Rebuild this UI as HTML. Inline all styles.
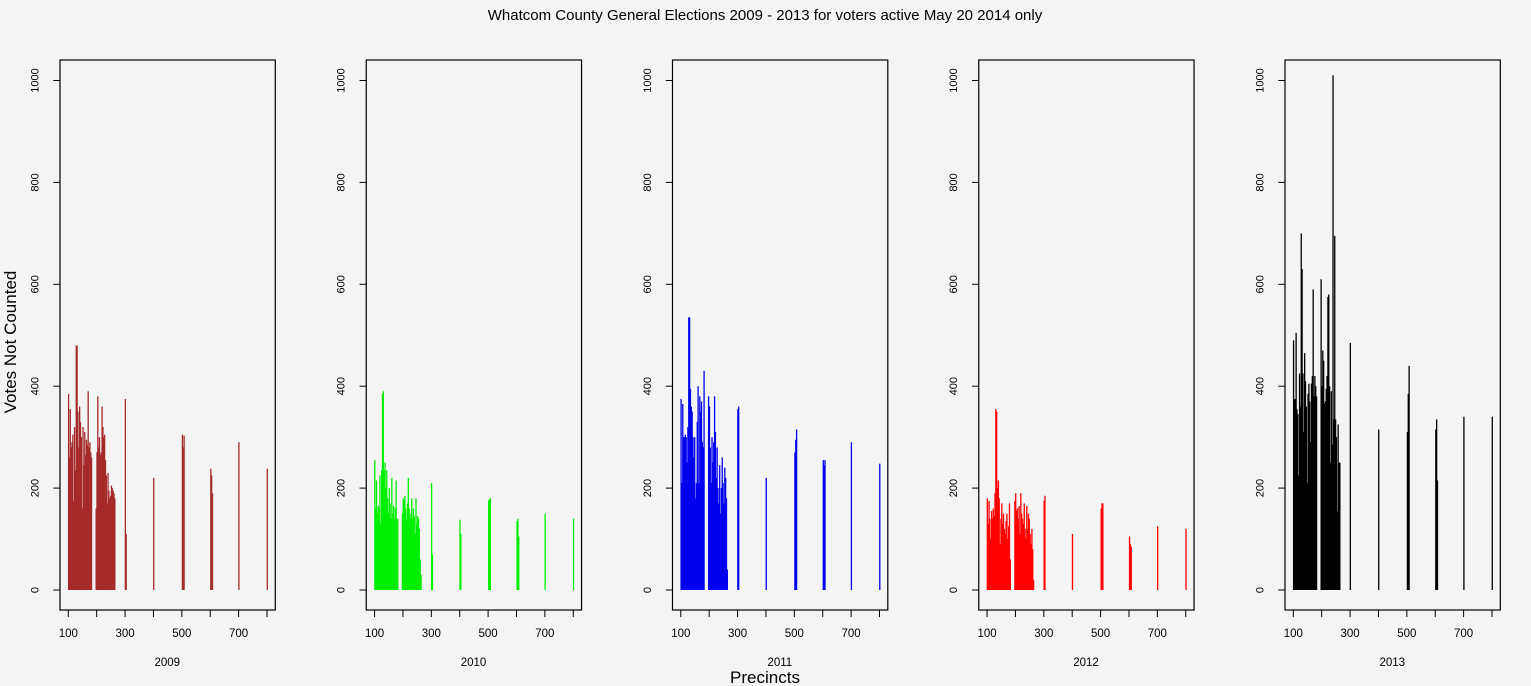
<!DOCTYPE html>
<html><head><meta charset="utf-8">
<style>
html,body{margin:0;padding:0;background:#f5f4f4;}
svg{display:block;font-family:"Liberation Sans",Arial,sans-serif;}
</style></head>
<body>
<svg id="chart" width="1531" height="686" viewBox="0 0 1531 686" xmlns="http://www.w3.org/2000/svg">
<rect x="0" y="0" width="1531" height="686" fill="#f5f4f4"/>
<text x="765" y="20" text-anchor="middle" font-size="15" fill="#000">Whatcom County General Elections 2009 - 2013 for voters active May 20 2014 only</text>
<text transform="translate(16,342) rotate(-90)" text-anchor="middle" font-size="17" fill="#000">Votes Not Counted</text>
<text x="765" y="683" text-anchor="middle" font-size="17" fill="#000">Precincts</text>
<g id="panels"></g>
</svg>
<script>
const years = ["2009","2010","2011","2012","2013"];
const colors = ["#a52a2a","#00ee00","#0000ee","#ff0000","#000000"];
const groupAStart = 101, groupAStep = 3, groupACount = 28;
const groupBStart = 198, groupBStep = 3, groupBCount = 23;
const otherPrecincts = [301,304,401,404,502,505,508,602,605,608,701,801];
const xTicks = [100,200,300,400,500,600,700,800];
const xTickLabels = ["100","","300","","500","","700",""];
const yTicks = [0,200,400,600,800,1000];

const votes2009A = [385,260,355,280,290,305,175,320,235,480,480,350,280,360,330,300,160,320,245,310,265,295,285,390,280,290,270,260];
const votes2009B = [160,270,380,280,300,265,270,360,320,300,305,255,225,170,230,195,180,185,205,200,195,190,180];
const votes2009O = [375,110,220,0,305,280,303,238,225,190,290,238];

const votes2010A = [255,160,215,150,165,160,225,130,235,385,390,235,250,200,235,180,150,200,170,140,220,150,165,140,160,215,140,140];
const votes2010B = [150,180,175,185,160,140,170,220,160,140,150,180,140,160,145,110,180,130,145,140,120,60,30];
const votes2010O = [210,70,138,110,175,178,180,135,140,105,150,140];

const votes2011A = [375,210,365,300,300,305,300,250,320,535,535,395,360,350,300,260,300,180,210,330,400,210,380,350,370,290,280,430];
const votes2011B = [380,360,280,210,300,250,290,380,310,220,280,200,170,245,150,200,260,210,170,240,220,180,40];
const votes2011O = [355,360,220,0,270,295,315,255,245,255,290,248];

const votes2012A = [180,130,175,140,100,155,140,160,145,190,355,350,200,215,180,90,140,170,130,150,120,110,135,150,100,125,170,60];
const votes2012B = [175,190,155,160,140,165,110,190,150,140,130,170,120,100,165,120,150,140,110,90,120,80,20];
const votes2012O = [175,185,110,0,160,170,170,105,90,85,125,120];

const votes2013A = [490,375,375,505,355,345,225,425,360,700,630,425,310,465,410,360,210,385,405,370,290,405,420,590,380,420,400,380];
const votes2013B = [610,400,470,450,365,370,395,420,575,580,400,250,390,285,1010,335,695,335,300,155,325,250,250];
const votes2013O = [485,0,315,0,310,385,440,315,335,215,340,340];

const seriesA = [votes2009A,votes2010A,votes2011A,votes2012A,votes2013A];
const seriesB = [votes2009B,votes2010B,votes2011B,votes2012B,votes2013B];
const seriesO = [votes2009O,votes2010O,votes2011O,votes2012O,votes2013O];

const NS = "http://www.w3.org/2000/svg";
const root = document.getElementById("panels");
function mk(tag, attrs, parent){
  const e = document.createElementNS(NS, tag);
  for (const k in attrs) e.setAttribute(k, attrs[k]);
  parent.appendChild(e);
  return e;
}
const y0 = 590, pxPerUnitY = 0.5095;
function yScale(v){ return y0 - v*pxPerUnitY; }
const pxPerUnitX = 198.7/700;

for (let p = 0; p < years.length; p++) {
  const t100 = 68.3 + p*306.25;
  const xScale = v => t100 + (v-100)*pxPerUnitX;
  const g = mk("g", {}, root);
  
  
  const box = mk("rect", {x: t100-8.3, y: 60, width: 215.3, height: 550, fill: "none", stroke: "#000", "stroke-width": 1.2}, g);
  
  
  const drawBar = (prec, val) => {
    if (!val) return;
    const l = mk("line", {x1: xScale(prec), x2: xScale(prec), y1: yScale(0), y2: yScale(val), stroke: colors[p], "stroke-width": 1.3}, g);
    
    
  };
  seriesA[p].forEach((v,i) => drawBar(groupAStart + i*groupAStep, v));
  seriesB[p].forEach((v,i) => drawBar(groupBStart + i*groupBStep, v));
  seriesO[p].forEach((v,i) => drawBar(otherPrecincts[i], v));
  xTicks.forEach((t,i) => {
    const tk = mk("line", {x1: xScale(t), x2: xScale(t), y1: 610, y2: 617, stroke: "#000", "stroke-width": 1}, g);
    
    
    if (xTickLabels[i]) {
      const tl = mk("text", {x: xScale(t), y: 637, "text-anchor": "middle", "font-size": 11.5, fill: "#000"}, g);
      tl.textContent = xTickLabels[i];
      
      
    }
  });
  yTicks.forEach(t => {
    const tk = mk("line", {x1: t100-8.3, x2: t100-15, y1: yScale(t), y2: yScale(t), stroke: "#000", "stroke-width": 1}, g);
    
    
    const yx = t100 - 30;
    const tl = mk("text", {transform: "translate(" + yx + "," + yScale(t) + ") rotate(-90)", "text-anchor": "middle", "font-size": 11, fill: "#000"}, g);
    tl.textContent = String(t);
    
    
  });
  const yl = mk("text", {x: t100 + 99, y: 666, "text-anchor": "middle", "font-size": 11.5, fill: "#000"}, g);
  yl.textContent = years[p];
  
  
}
</script>
</body></html>
